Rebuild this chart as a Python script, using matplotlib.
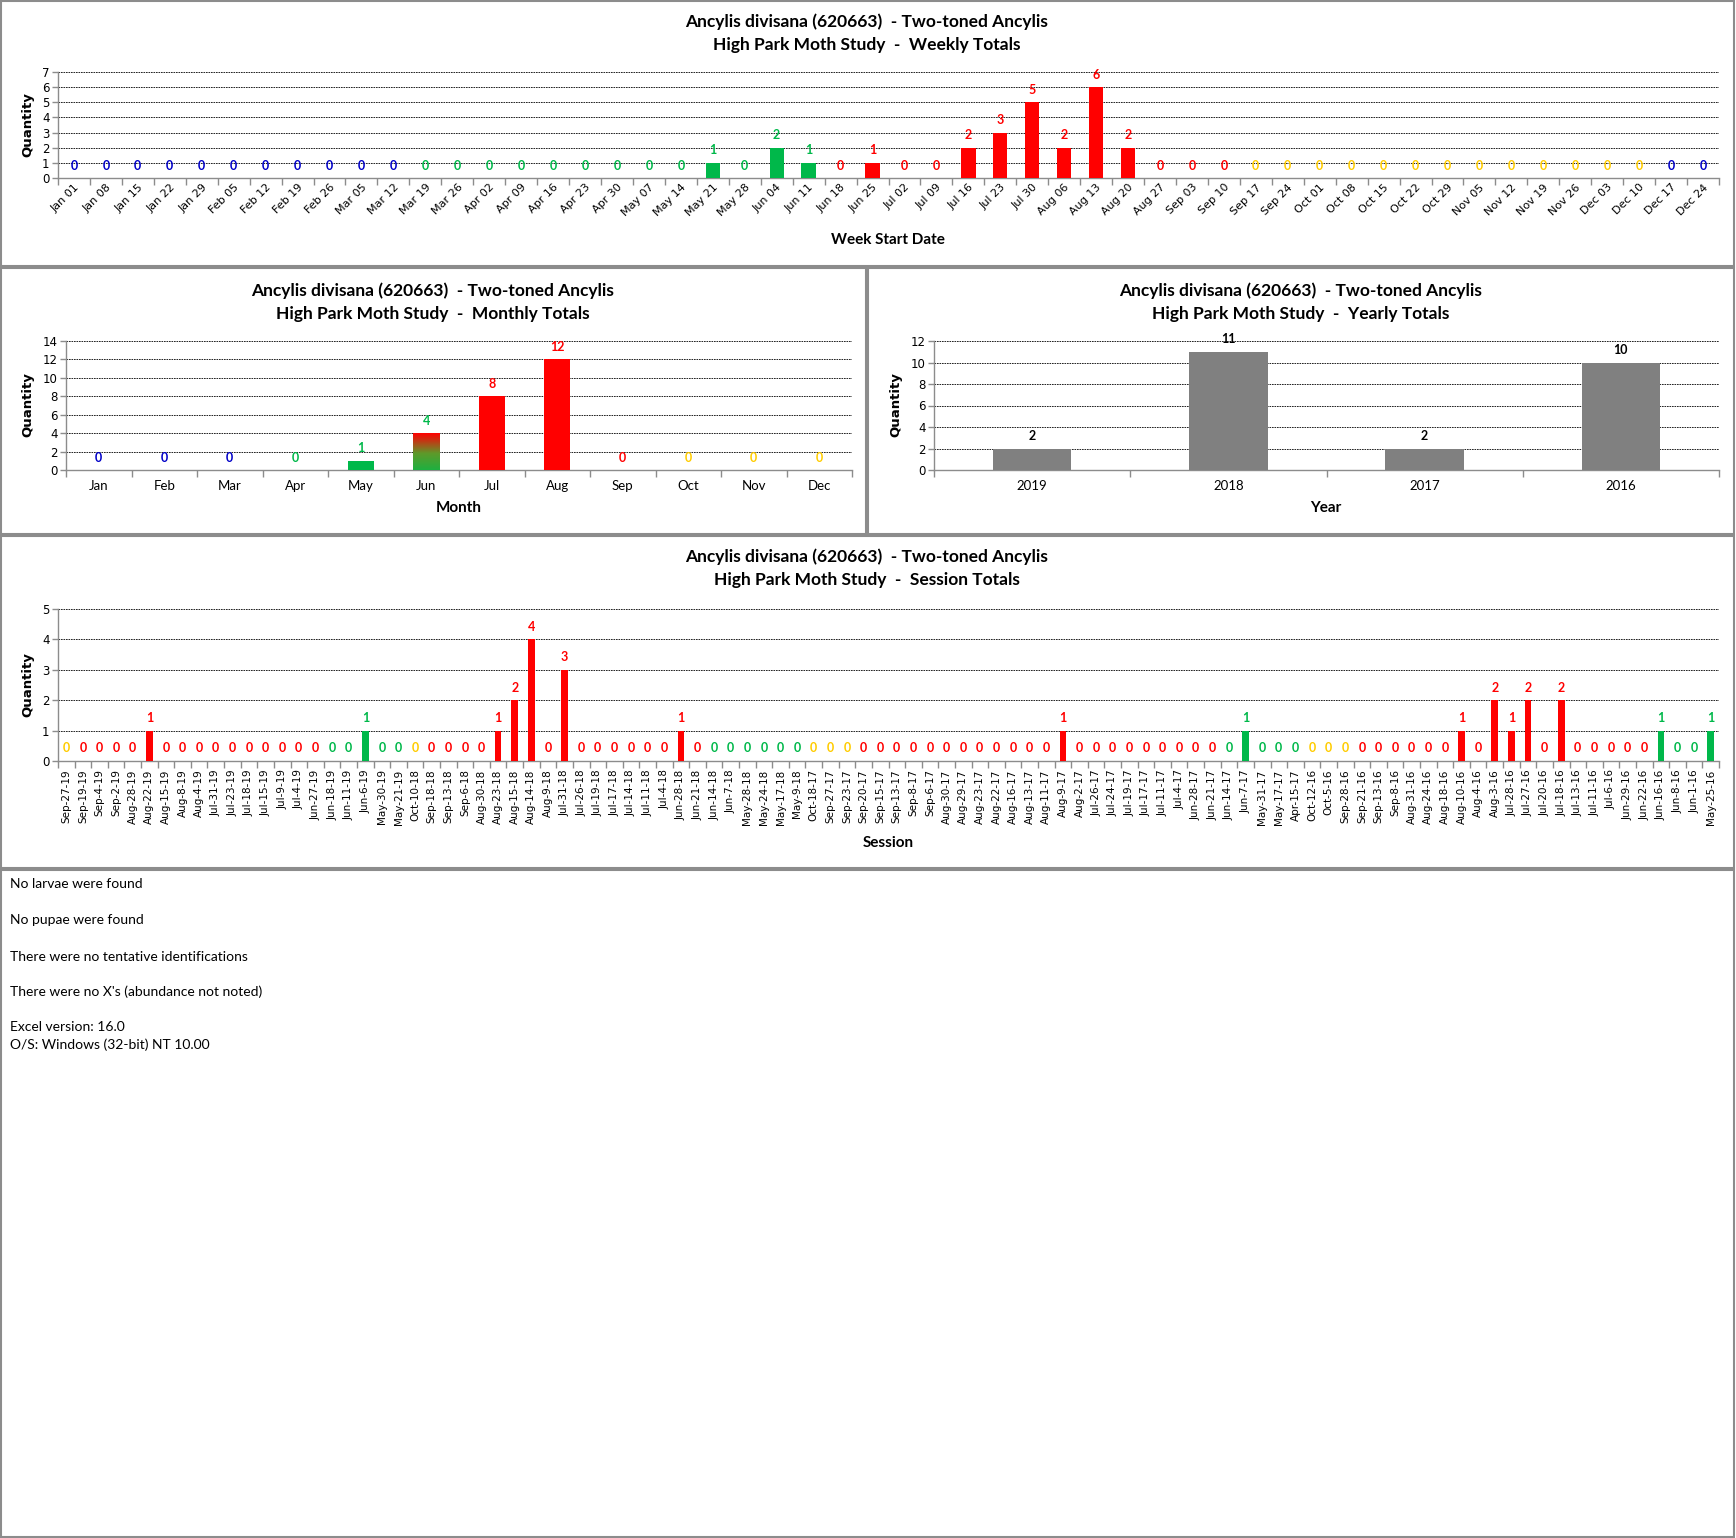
import numpy as np
import matplotlib
matplotlib.use("Agg")
import matplotlib.pyplot as plt
from matplotlib.patches import Rectangle
from matplotlib.colors import LinearSegmentedColormap

# ---- data -------------------------------------------------------------
TITLE = "Ancylis divisana (620663)  - Two-toned Ancylis"

week_labels = ["Jan 01", "Jan 08", "Jan 15", "Jan 22", "Jan 29", "Feb 05", "Feb 12",
               "Feb 19", "Feb 26", "Mar 05", "Mar 12", "Mar 19", "Mar 26", "Apr 02",
               "Apr 09", "Apr 16", "Apr 23", "Apr 30", "May 07", "May 14", "May 21",
               "May 28", "Jun 04", "Jun 11", "Jun 18", "Jun 25", "Jul 02", "Jul 09",
               "Jul 16", "Jul 23", "Jul 30", "Aug 06", "Aug 13", "Aug 20", "Aug 27",
               "Sep 03", "Sep 10", "Sep 17", "Sep 24", "Oct 01", "Oct 08", "Oct 15",
               "Oct 22", "Oct 29", "Nov 05", "Nov 12", "Nov 19", "Nov 26", "Dec 03",
               "Dec 10", "Dec 17", "Dec 24"]
week_values = [0, 0, 0, 0, 0, 0, 0, 0, 0, 0, 0, 0, 0, 0, 0, 0, 0, 0, 0, 0, 1, 0, 2, 1,
               0, 1, 0, 0, 2, 3, 5, 2, 6, 2, 0, 0, 0, 0, 0, 0, 0, 0, 0, 0, 0, 0, 0, 0,
               0, 0, 0, 0]
week_codes = "B" * 11 + "G" * 13 + "R" * 13 + "Y" * 13 + "B" * 2

month_labels = ["Jan", "Feb", "Mar", "Apr", "May", "Jun", "Jul", "Aug", "Sep", "Oct", "Nov", "Dec"]
month_values = [0, 0, 0, 0, 1, 4, 8, 12, 0, 0, 0, 0]
month_codes = "BBBGGGRRRYYY"

year_labels = ["2019", "2018", "2017", "2016"]
year_values = [2, 11, 2, 10]

session_labels = [
    "Sep-27-19", "Sep-19-19", "Sep-4-19", "Sep-2-19", "Aug-28-19", "Aug-22-19", "Aug-15-19",
    "Aug-8-19", "Aug-4-19", "Jul-31-19", "Jul-23-19", "Jul-18-19", "Jul-15-19", "Jul-9-19",
    "Jul-4-19", "Jun-27-19", "Jun-18-19", "Jun-11-19", "Jun-6-19", "May-30-19", "May-21-19",
    "Oct-10-18", "Sep-18-18", "Sep-13-18", "Sep-6-18", "Aug-30-18", "Aug-23-18", "Aug-15-18",
    "Aug-14-18", "Aug-9-18", "Jul-31-18", "Jul-26-18", "Jul-19-18", "Jul-17-18", "Jul-14-18",
    "Jul-11-18", "Jul-4-18", "Jun-28-18", "Jun-21-18", "Jun-14-18", "Jun-7-18", "May-28-18",
    "May-24-18", "May-17-18", "May-9-18",
    "Oct-18-17", "Sep-27-17", "Sep-23-17", "Sep-20-17", "Sep-15-17", "Sep-13-17", "Sep-8-17",
    "Sep-6-17", "Aug-30-17", "Aug-29-17", "Aug-23-17", "Aug-22-17", "Aug-16-17", "Aug-13-17",
    "Aug-11-17", "Aug-9-17", "Aug-2-17", "Jul-26-17", "Jul-24-17", "Jul-19-17", "Jul-17-17",
    "Jul-11-17", "Jul-4-17", "Jun-28-17", "Jun-21-17", "Jun-14-17", "Jun-7-17", "May-31-17",
    "May-17-17", "Apr-15-17",
    "Oct-12-16", "Oct-5-16", "Sep-28-16", "Sep-21-16", "Sep-13-16", "Sep-8-16", "Aug-31-16",
    "Aug-24-16", "Aug-18-16", "Aug-10-16", "Aug-4-16", "Aug-3-16", "Jul-28-16", "Jul-27-16",
    "Jul-20-16", "Jul-18-16", "Jul-13-16", "Jul-11-16", "Jul-6-16", "Jun-29-16", "Jun-22-16",
    "Jun-16-16", "Jun-8-16", "Jun-1-16", "May-25-16"]
session_values = (
    [0, 0, 0, 0, 0, 1, 0, 0, 0, 0, 0, 0, 0, 0, 0, 0, 0, 0, 1, 0, 0]
    + [0, 0, 0, 0, 0, 1, 2, 4, 0, 3, 0, 0, 0, 0, 0, 0, 1, 0, 0, 0, 0, 0, 0, 0]
    + [0, 0, 0, 0, 0, 0, 0, 0, 0, 0, 0, 0, 0, 0, 0, 1, 0, 0, 0, 0, 0, 0, 0, 0, 0, 0, 1, 0, 0, 0]
    + [0, 0, 0, 0, 0, 0, 0, 0, 0, 1, 0, 2, 1, 2, 0, 2, 0, 0, 0, 0, 0, 1, 0, 0, 1])
session_codes = ("Y" + "R" * 15 + "G" * 5
                 + "Y" + "R" * 17 + "G" * 6
                 + "YYY" + "R" * 22 + "G" * 5
                 + "YYY" + "R" * 18 + "G" * 4)

notes = ["No larvae were found", "No pupae were found",
         "There were no tentative identifications",
         "There were no X's (abundance not noted)",
         "Excel version: 16.0", "O/S: Windows (32-bit) NT 10.00"]

# ---- styling ----------------------------------------------------------
COLORS = {"B": "#0000C8", "G": "#00B84A", "R": "#FF0000", "Y": "#FFCC00"}
GRAY = "#8C8C8C"
TXT = ["Lato", "DejaVu Sans"]
W, H = 1736, 1538

fig = plt.figure(figsize=(W / 100, H / 100), dpi=100)


def ax_at(left, top, right, bottom):
    return fig.add_axes([left / W, 1 - bottom / H, (right - left) / W, (bottom - top) / H])


def ftext(x, y, s, **kw):
    fig.text(x / W, 1 - y / H, s, **kw)


def box(x0, y0, x1, y1):
    fig.add_artist(Rectangle((x0 / W, 1 - y1 / H), (x1 - x0) / W, (y1 - y0) / H,
                             transform=fig.transFigure, fill=False, ec=GRAY, lw=1.5))


def titles(cx, y1, subtitle):
    ftext(cx, y1, TITLE, ha="center", va="center", fontsize=12.5, fontweight="bold", family=TXT)
    ftext(cx, y1 + 23, "High Park Moth Study  -  " + subtitle, ha="center", va="center",
          fontsize=12.5, fontweight="bold", family=TXT)


def bar_chart(ax, labels, values, bar_colors, label_colors, ymax, ystep, width):
    x = np.arange(len(values))
    bars = ax.bar(x, values, width, color=bar_colors, zorder=3)
    for xi, v, c in zip(x, values, label_colors):
        ax.annotate(str(v), (xi, v), xytext=(0, 9), textcoords="offset points",
                    ha="center", va="center", color=c, fontsize=9,
                    fontweight="bold", family=TXT, zorder=4)
    ax.set_xlim(-0.5, len(values) - 0.5)
    ax.set_ylim(0, ymax)
    ax.set_yticks(np.arange(0, ymax + 1, ystep))
    ax.set_xticks(x)
    ax.set_xticklabels(labels)
    ax.set_xticks(np.arange(len(values) + 1) - 0.5, minor=True)
    ax.tick_params(axis="x", which="major", length=0)
    ax.tick_params(axis="x", which="minor", length=5, color=GRAY, width=1)
    ax.tick_params(axis="y", length=4, color=GRAY, width=1, labelsize=8.5, pad=2)
    ax.grid(axis="y", color="black", linestyle=(0, (2, 1)), lw=0.6)
    ax.set_axisbelow(True)
    for s in ["top", "right"]:
        ax.spines[s].set_visible(False)
    for s in ["left", "bottom"]:
        ax.spines[s].set_color(GRAY)
        ax.spines[s].set_linewidth(1)
    return bars


# ---- panel borders ----------------------------------------------------
box(1, 1, 1734, 266)
box(1, 268, 866, 534)
box(868, 268, 1734, 534)
box(1, 536, 1734, 868)
box(1, 870, 1734, 1537)

# ---- weekly -----------------------------------------------------------
titles(867, 22, "Weekly Totals")
ax = ax_at(58, 72, 1719, 178)
wc = [COLORS[c] for c in week_codes]
bar_chart(ax, week_labels, week_values, wc, wc, 7, 1, 0.45)
ax.tick_params(axis="x", labelsize=8, pad=3)
for t in ax.get_xticklabels():
    t.set_rotation(45)
    t.set_ha("right")
    t.set_va("top")
    t.set_rotation_mode("anchor")
ftext(888, 240, "Week Start Date", ha="center", va="center", fontsize=11,
      fontweight="bold", family=TXT)
ftext(28, 125, "Quantity", ha="center", va="center", rotation=90, fontsize=9.5,
      fontweight="bold")

# ---- monthly ----------------------------------------------------------
titles(433, 291, "Monthly Totals")
ax = ax_at(66, 341, 852, 470)
mc = [COLORS[c] for c in month_codes]
bars = bar_chart(ax, month_labels, month_values, mc, mc, 14, 2, 0.4)
ax.tick_params(axis="x", labelsize=9.5, pad=7)
for t in ax.get_xticklabels():
    t.set_family(TXT)
jun = bars[5]
cmap = LinearSegmentedColormap.from_list(
    "jun", [(0, "#1DB040"), (0.45, "#5E9A2A"), (0.78, "#C03A14"), (1, "#FF0000")])
ax.imshow(np.linspace(0, 1, 256).reshape(-1, 1), cmap=cmap, origin="lower", aspect="auto",
          extent=[jun.get_x(), jun.get_x() + jun.get_width(), 0, jun.get_height()], zorder=3.5)
ax.set_xlim(-0.5, len(month_values) - 0.5)
ax.set_ylim(0, 14)
ftext(459, 508, "Month", ha="center", va="center", fontsize=11, fontweight="bold", family=TXT)
ftext(28, 405, "Quantity", ha="center", va="center", rotation=90, fontsize=9.5,
      fontweight="bold")

# ---- yearly -----------------------------------------------------------
titles(1301, 291, "Yearly Totals")
ax = ax_at(934, 341, 1719, 470)
bar_chart(ax, year_labels, year_values, ["#808080"] * 4, ["black"] * 4, 12, 2, 0.4)
ax.tick_params(axis="x", labelsize=9.5, pad=7)
for t in ax.get_xticklabels():
    t.set_family(TXT)
ftext(1326, 508, "Year", ha="center", va="center", fontsize=11, fontweight="bold", family=TXT)
ftext(896, 405, "Quantity", ha="center", va="center", rotation=90, fontsize=9.5,
      fontweight="bold")

# ---- sessions ---------------------------------------------------------
titles(867, 557, "Session Totals")
ax = ax_at(58, 609, 1719, 761)
sc = [COLORS[c] for c in session_codes]
bar_chart(ax, session_labels, session_values, sc, sc, 5, 1, 0.4)
ax.tick_params(axis="x", labelsize=7.5, pad=6)
for t in ax.get_xticklabels():
    t.set_rotation(90)
ftext(888, 843, "Session", ha="center", va="center", fontsize=11, fontweight="bold",
      family=TXT)
ftext(28, 685, "Quantity", ha="center", va="center", rotation=90, fontsize=9.5,
      fontweight="bold")

# ---- notes ------------------------------------------------------------
for s, y in zip(notes, [884, 920, 957, 992, 1027, 1045]):
    ftext(10, y, s, ha="left", va="center", fontsize=10, family=TXT)

fig.savefig("out.png", dpi=100)
